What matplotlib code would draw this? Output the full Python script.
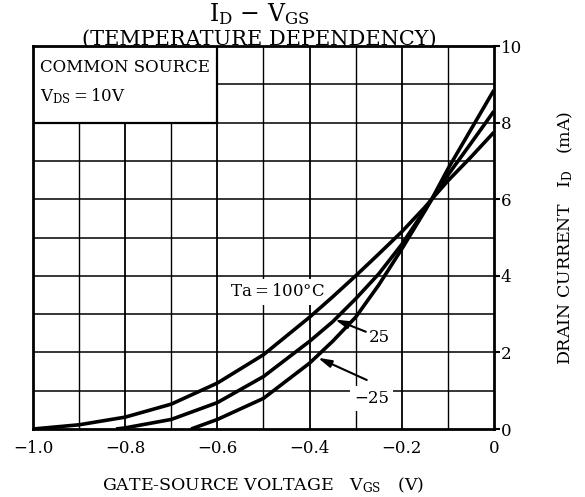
import matplotlib
matplotlib.use("Agg")
import matplotlib.pyplot as plt
from matplotlib.patches import Rectangle

plt.rcParams['font.family'] = ['DejaVu Serif']
plt.rcParams['mathtext.fontset'] = 'dejavuserif'

# VGS (V) vs ID (mA)
vgs_100 = [-1.0, -0.9, -0.8, -0.7, -0.6, -0.5, -0.4, -0.35, -0.3, -0.25, -0.2, -0.15,
           -0.135, -0.1, -0.05, 0.0]
id_100 = [0.0, 0.11, 0.31, 0.65, 1.2, 1.94, 2.92, 3.45, 4.0, 4.57, 5.15, 5.79,
          6.0, 6.48, 7.1, 7.75]

vgs_25 = [-0.82, -0.8, -0.7, -0.6, -0.5, -0.4, -0.35, -0.3, -0.25, -0.2, -0.15,
          -0.135, -0.1, -0.05, 0.0]
id_25 = [0.0, 0.03, 0.25, 0.69, 1.37, 2.29, 2.8, 3.4, 4.05, 4.82, 5.72,
         6.0, 6.63, 7.46, 8.3]

vgs_m25 = [-0.657, -0.6, -0.5, -0.4, -0.35, -0.3, -0.25, -0.2, -0.15, -0.135, -0.1,
           -0.05, 0.0]
id_m25 = [0.0, 0.25, 0.8, 1.72, 2.29, 2.92, 3.76, 4.7, 5.69, 6.0, 6.79,
          7.82, 8.85]

xticks = [-1.0, -0.8, -0.6, -0.4, -0.2, 0]
xticklabels = ['\u22121.0', '\u22120.8', '\u22120.6', '\u22120.4', '\u22120.2', '0']
yticks = [0, 2, 4, 6, 8, 10]

fig = plt.figure(figsize=(5.85, 4.97), dpi=100)
ax = fig.add_axes([0.0564, 0.1368, 0.788, 0.7706])

ax.set_xlim(-1.0, 0)
ax.set_ylim(0, 10)

# grid: every 0.1 V and every 1 mA
for i in range(1, 10):
    ax.axvline(-1.0 + i * 0.1, color='black', lw=1.3 if i % 2 == 0 else 1.0, zorder=1)
    ax.axhline(i, color='black', lw=1.1, zorder=1)

for xs, ys in [(vgs_100, id_100), (vgs_25, id_25), (vgs_m25, id_m25)]:
    ax.plot(xs, ys, color='black', lw=2.6, solid_joinstyle='round',
            solid_capstyle='butt', zorder=4)

# condition box in the corner
ax.add_patch(Rectangle((-1.0, 8), 0.4, 2, facecolor='white', edgecolor='black',
                       lw=1.6, zorder=3))
ax.text(-0.985, 9.45, 'COMMON SOURCE', fontsize=12, va='center', ha='left', zorder=5)
ax.text(-0.985, 8.7, r'V$_{\mathrm{DS}}$$=$10V', fontsize=12, va='center', ha='left', zorder=5)

lab = dict(boxstyle='square,pad=0.25', facecolor='white', edgecolor='none')
ax.text(-0.47, 3.58, 'Ta$=$100\u00b0C', fontsize=12, ha='center', va='center',
        bbox=lab, zorder=3)
ax.text(-0.248, 2.38, '25', fontsize=12, ha='center', va='center', bbox=lab, zorder=3)
ax.text(-0.265, 0.8, '\u221225', fontsize=12, ha='center', va='center', bbox=lab, zorder=3)

arr = dict(arrowstyle='-|>,head_length=0.8,head_width=0.22', color='black', lw=1.5,
           shrinkA=0, shrinkB=0)
ax.annotate('', xy=(-0.345, 2.86), xytext=(-0.278, 2.54), arrowprops=arr, zorder=5)
ax.annotate('', xy=(-0.382, 1.86), xytext=(-0.276, 1.28), arrowprops=arr, zorder=5)

for s in ax.spines.values():
    s.set_linewidth(2.0)
    s.set_zorder(6)

ax.set_xticks(xticks)
ax.set_xticklabels(xticklabels, fontsize=12)
ax.tick_params(axis='x', length=0, pad=8)
ax.yaxis.tick_right()
ax.set_yticks(yticks)
ax.set_yticklabels([str(v) for v in yticks], fontsize=12)
ax.tick_params(axis='y', direction='out', length=4, width=1.5, pad=1)

ax.set_xlabel(r'GATE-SOURCE VOLTAGE   V$_{\mathrm{GS}}$   (V)', fontsize=12.5, labelpad=13)
ax.yaxis.set_label_position('right')
ax.set_ylabel(r'DRAIN CURRENT   I$_{\mathrm{D}}$   (mA)', fontsize=12.5, labelpad=24)

fig.text(0.444, 0.972, r'I$_{\mathrm{D}}$ $-$ V$_{\mathrm{GS}}$', fontsize=17,
         ha='center', va='center')
fig.text(0.444, 0.92, '(TEMPERATURE DEPENDENCY)', fontsize=15, ha='center',
         va='center')

fig.savefig('out.png', dpi=100)
